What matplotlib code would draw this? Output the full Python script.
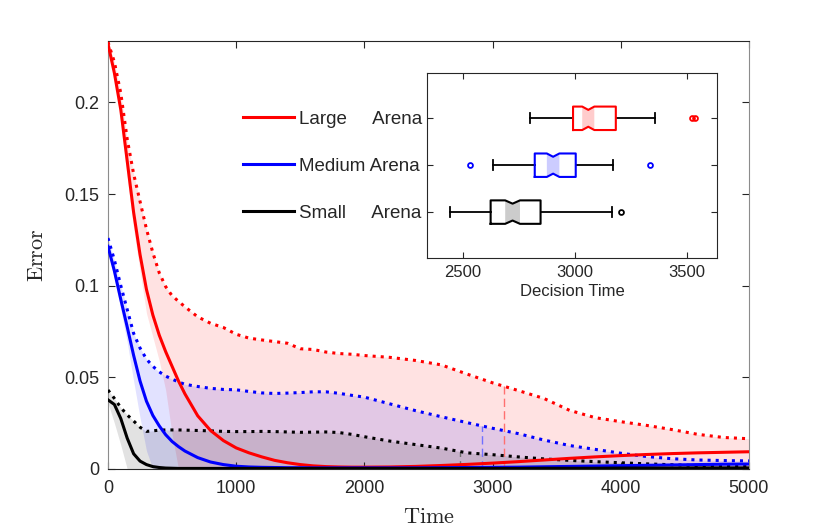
# Error vs time for three arena sizes, with decision time box plots as inset
from matplotlib import pyplot as plt
import numpy as np

plt.rcParams['font.family'] = ['Liberation Sans', 'DejaVu Sans']
plt.rcParams['mathtext.fontset'] = 'cm'

# time grid (same for all series)
time = [0, 50, 100, 150, 200, 250, 300, 350, 400, 450, 500, 550, 600,
        700, 800, 900, 1000, 1100, 1200, 1300, 1400, 1500, 1600, 1700, 1800, 1900, 2000,
        2200, 2400, 2600, 2800, 3000, 3200, 3400, 3600, 3800, 4000, 4200, 4400, 4600, 4800, 5000]

# Large arena
large_mean = [.232, .216, .196, .168, .140, .117, .098, .084, .073, .064, .056, .048, .041,
              .029, .021, .0155, .0115, .0088, .0066, .0047, .0034, .0024, .0017, .0013, .0011, .001, .001,
              .0011, .0014, .0019, .0025, .0032, .0040, .0049, .0058, .0066, .0073, .0079, .0084, .0088, .0091, .0094]
large_upper = [.233, .222, .205, .180, .161, .146, .131, .118, .107, .0995, .0945, .0915, .0885,
               .0830, .0795, .0772, .0735, .0714, .0704, .0695, .0686, .0656, .0652, .0638, .0630, .0626, .0619,
               .0609, .0592, .0568, .0518, .0470, .0428, .0385, .0320, .0280, .0258, .0238, .0215, .0189, .0172, .0165]
large_lower = [.231, .213, .190, .159, .131, .108, .085, .072, .059, .043, .019, 0, 0,
               0, 0, 0, 0, 0, 0, 0, 0, 0, 0, 0, 0, 0, 0,
               0, 0, 0, 0, 0, 0, 0, 0, 0, 0, 0, 0, 0, 0, 0]

# Medium arena
medium_mean = [.1215, .108, .0925, .0775, .062, .048, .037, .0292, .0235, .0187, .015, .0122, .0098,
               .0062, .0038, .0024, .0015, .0011, .0009, .0008, .0007, .0007, .0006, .0006, .0006, .0006, .0006,
               .0006, .0006, .0007, .0008, .0009, .0010, .0012, .0014, .0016, .0018, .0020, .0022, .0024, .0026, .0027]
medium_upper = [.126, .114, .100, .087, .074, .066, .060, .056, .053, .0507, .0490, .0475, .0462,
                .0450, .0440, .0434, .0432, .0423, .0415, .0412, .0414, .0417, .0421, .0421, .0413, .0402, .0392,
                .0355, .0318, .0285, .0253, .0222, .0193, .0158, .0128, .0107, .0086, .0068, .0056, .0049, .0046, .0044]
medium_lower = [.120, .104, .087, .069, .048, .028, .010, 0, 0, 0, 0, 0, 0,
                0, 0, 0, 0, 0, 0, 0, 0, 0, 0, 0, 0, 0, 0,
                0, 0, 0, 0, 0, 0, 0, 0, 0, 0, 0, 0, 0, 0, 0]

# Small arena
small_mean = [.0377, .0352, .0275, .0168, .0083, .0043, .0024, .0013, .0008, .0005, .0004, .0003, .0003,
              .0003, .0003, .0003, .0003, .0003, .0003, .0003, .0003, .0003, .0003, .0003, .0003, .0003, .0003,
              .0003, .0003, .0003, .0003, .0003, .0003, .0004, .0004, .0004, .0005, .0005, .0005, .0006, .0006, .0006]
small_upper = [.0431, .0385, .0335, .0295, .0262, .0228, .0205, .0208, .0212, .0213, .0213, .0213, .0212,
               .0210, .0208, .0205, .0204, .0204, .0205, .0204, .0202, .0200, .0201, .0202, .0199, .0189, .0176,
               .0152, .0133, .0114, .0088, .0078, .0066, .0055, .0047, .0040, .0034, .0028, .0023, .0019, .0016, .0013]
small_lower = [.036, .025, .013, 0, 0, 0, 0, 0, 0, 0, 0, 0, 0,
               0, 0, 0, 0, 0, 0, 0, 0, 0, 0, 0, 0, 0, 0,
               0, 0, 0, 0, 0, 0, 0, 0, 0, 0, 0, 0, 0, 0, 0]

# mean decision times (dashed markers)
mean_decision = {'Large': 3090, 'Medium': 2915, 'Small': 2745}

# box plot stats of decision time
# order: Small (bottom), Medium, Large (top)
box_names = ['Small', 'Medium', 'Large']
box_low = [2442, 2635, 2800]
box_q1 = [2624, 2821, 2992]
box_med = [2722, 2903, 3060]
box_q3 = [2847, 3004, 3183]
box_high = [3168, 3171, 3360]
box_ci = [33, 28, 27]
box_fliers = [[3205], [2534, 3335], [3521, 3536]]

colors = {'Large': (1, 0, 0), 'Medium': (0, 0, 1), 'Small': (0, 0, 0)}
dash_colors = {'Large': '#ff7070', 'Medium': '#7070ff', 'Small': '#707070'}
labels = {'Large': 'Large     Arena', 'Medium': 'Medium Arena', 'Small': 'Small     Arena'}
series = {'Large': (large_mean, large_upper, large_lower),
          'Medium': (medium_mean, medium_upper, medium_lower),
          'Small': (small_mean, small_upper, small_lower)}

dark = '#262626'
gray = '#8c8c8c'

fig = plt.figure(figsize=(8.3, 5.31), dpi=100)
ax = fig.add_axes([0.1301, 0.1168, 0.7723, 0.8066])

t = np.array(time)
for name in ['Large', 'Medium', 'Small']:
    m, up, lo = series[name]
    ax.fill_between(t, lo, up, color=colors[name], alpha=0.115, linewidth=0, zorder=1)

for name in ['Large', 'Medium', 'Small']:
    m, up, lo = series[name]
    td = mean_decision[name]
    ax.vlines(td, 0, np.interp(td, t, up), colors=dash_colors[name], linewidth=1,
              linestyles=(0, (6, 3)), zorder=2)

for name in ['Small', 'Medium', 'Large']:
    m, up, lo = series[name]
    ax.plot(t, up, ':', color=colors[name], linewidth=2.2, zorder=3)
for name in ['Large', 'Medium', 'Small']:
    m, up, lo = series[name]
    ax.plot(t, m, '-', color=colors[name], linewidth=2.2, zorder=4, label=labels[name])

ax.set_xlim(0, 5000)
ax.set_ylim(0, 0.2337)
ax.set_xticks([0, 1000, 2000, 3000, 4000, 5000])
ax.set_yticks([0, 0.05, 0.1, 0.15, 0.2])
ax.set_yticklabels(['0', '0.05', '0.1', '0.15', '0.2'])
ax.tick_params(direction='in', top=True, right=True, length=5, width=0.8,
               labelsize=13, colors=dark)
ax.tick_params(axis='x', pad=8)
ax.tick_params(axis='y', pad=6)
for s in ['top', 'bottom']:
    ax.spines[s].set_color(dark)
for s in ['left', 'right']:
    ax.spines[s].set_color(gray)
ax.set_xlabel(r'$\mathrm{Time}$', fontsize=16, color=dark, labelpad=7)
ax.set_ylabel(r'$\mathrm{Error}$', fontsize=16, color=dark, labelpad=12)

leg = ax.legend(loc='upper left', bbox_to_anchor=(0.2106, 0.8368), frameon=False,
                fontsize=13.5, handlelength=2.7, handletextpad=0.3, labelspacing=1.6,
                borderpad=0, borderaxespad=0)
for txt in leg.get_texts():
    txt.set_color(dark)

# inset with decision time box plots
ins = fig.add_axes([0.5145, 0.514, 0.3494, 0.348])
ins.set_facecolor('white')
ins.set_zorder(5)
stats = []
for i in range(3):
    stats.append({'whislo': box_low[i], 'q1': box_q1[i], 'med': box_med[i], 'q3': box_q3[i],
                  'whishi': box_high[i], 'fliers': box_fliers[i]})
pos = [1, 2, 3]
ins.bxp(stats, positions=pos, vert=False, showbox=False, widths=0.5,
        whiskerprops=dict(color='black', linewidth=1.3),
        capprops=dict(color='black', linewidth=1.3), capwidths=0.22,
        medianprops=dict(linewidth=0), showfliers=False)
hw = 0.25
nd = 0.72
for i in range(3):
    c = colors[box_names[i]]
    y = pos[i]
    q1, q3, md = box_q1[i], box_q3[i], box_med[i]
    lo, hi = md - box_ci[i], md + box_ci[i]
    # shaded notch area
    ins.fill([lo, md, hi, hi, md, lo], [y - hw, y - hw * nd, y - hw, y + hw, y + hw * nd, y + hw],
             color=c, alpha=0.2, linewidth=0, zorder=2)
    bx = [q1, lo, md, hi, q3, q3, hi, md, lo, q1, q1]
    by = [y - hw, y - hw, y - hw * nd, y - hw, y - hw, y + hw, y + hw, y + hw * nd, y + hw, y + hw, y - hw]
    ins.plot(bx, by, color=c, linewidth=1.5, zorder=3)
    fl = box_fliers[i]
    ins.plot(fl, [y] * len(fl), 'o', markerfacecolor='none', markeredgecolor=c,
             markersize=3.5, markeredgewidth=1.3, zorder=3)

ins.set_xlim(2340, 3635)
ins.set_ylim(0.02, 3.96)
ins.set_xticks([2500, 3000, 3500])
ins.set_yticks([1, 2, 3])
ins.set_yticklabels([])
ins.tick_params(direction='in', top=True, right=True, length=4, width=0.8,
                labelsize=12, colors=dark, pad=5)
for s in ins.spines.values():
    s.set_color(dark)
ins.set_xlabel('Decision Time', fontsize=12, color=dark, labelpad=3)

fig.savefig('out.png', dpi=100)
